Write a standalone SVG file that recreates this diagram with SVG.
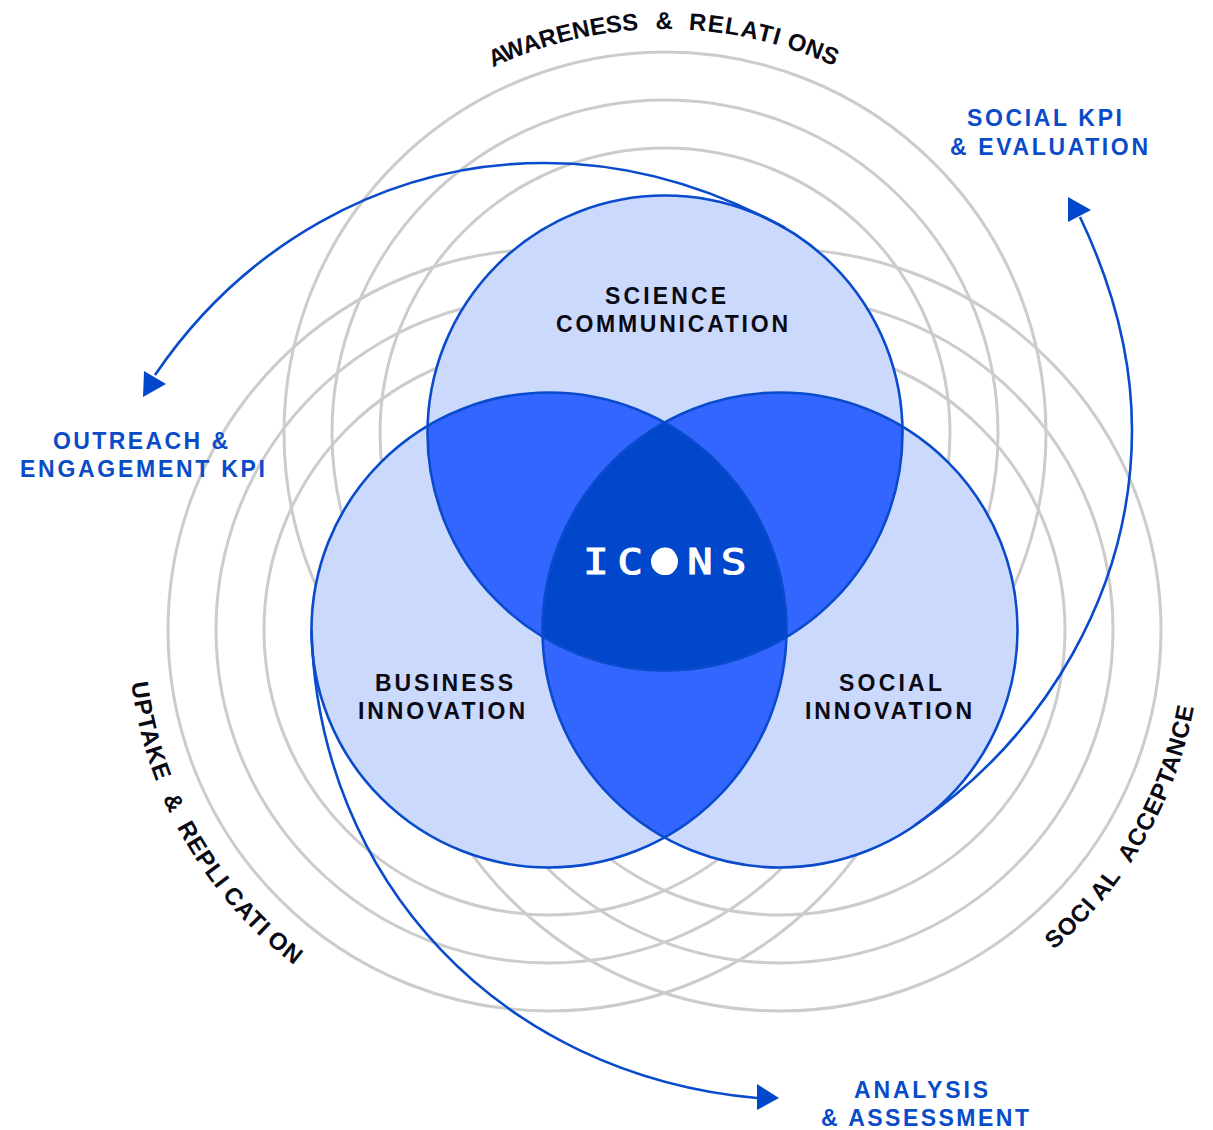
<svg xmlns="http://www.w3.org/2000/svg" width="1213" height="1130" viewBox="0 0 1213 1130">
<style>
.ring{fill:none;stroke:#cccccc;stroke-width:3}
.disc{fill:#cbd9fd}
.edge{fill:none;stroke:#0a4bcc;stroke-width:2.6}
.lens{fill:#3366ff}
.core{fill:#0047cc}
.lab{font-family:"Liberation Sans",Arial,sans-serif;font-weight:700;font-size:23px;fill:#0a0a14}
.blue{fill:#0a4bc8}
.arc{font-family:"Liberation Sans",Arial,sans-serif;font-weight:700;font-size:24px;fill:#0a0a14}
.conn{fill:none;stroke:#0a4bcc;stroke-width:2.6}
.head{fill:#0047cc}
</style>
<defs>
<clipPath id="cT"><circle cx="665" cy="433" r="237.5"/></clipPath>
<clipPath id="cL"><circle cx="549" cy="630" r="237.5"/></clipPath>
<clipPath id="cTL" clip-path="url(#cT)"><circle cx="549" cy="630" r="237.5"/></clipPath>
<path id="pTop" d="M665,29 A404,404 0 0 1 665,837 A404,404 0 0 1 665,29" transform="rotate(-25.2 665 433)"/>
<path id="pLeft" d="M128,630 A421,421 0 0 0 549,1051"/>
<path id="pRight" d="M780,1051 A421,421 0 0 0 1201,630"/>
</defs>
<g id="rings">
<circle class="ring" cx="665" cy="433" r="285"/><circle class="ring" cx="665" cy="433" r="333"/><circle class="ring" cx="665" cy="433" r="381"/>
<circle class="ring" cx="549" cy="630" r="285"/><circle class="ring" cx="549" cy="630" r="333"/><circle class="ring" cx="549" cy="630" r="381"/>
<circle class="ring" cx="780" cy="630" r="285"/><circle class="ring" cx="780" cy="630" r="333"/><circle class="ring" cx="780" cy="630" r="381"/>
</g>
<g id="node-science"><circle class="disc" cx="665" cy="433" r="238.5"/></g>
<g id="node-business"><circle class="disc" cx="549" cy="630" r="238.5"/></g>
<g id="node-social"><circle class="disc" cx="780" cy="630" r="238.5"/></g>
<g id="overlaps">
<circle class="lens" cx="549" cy="630" r="237.5" clip-path="url(#cT)"/>
<circle class="lens" cx="780" cy="630" r="237.5" clip-path="url(#cT)"/>
<circle class="lens" cx="780" cy="630" r="237.5" clip-path="url(#cL)"/>
<circle class="core" cx="780" cy="630" r="237.5" clip-path="url(#cTL)"/>
</g>
<g id="outlines">
<circle class="edge" cx="665" cy="433" r="237.5"/><circle class="edge" cx="549" cy="630" r="237.5"/><circle class="edge" cx="780" cy="630" r="237.5"/>
</g>
<g id="labels">
<text class="lab" x="605" y="303.5" textLength="121">SCIENCE</text>
<text class="lab" x="556" y="332" textLength="232">COMMUNICATION</text>
<text class="lab" x="375" y="691" textLength="138">BUSINESS</text>
<text class="lab" x="358" y="719" textLength="167">INNOVATION</text>
<text class="lab" x="839" y="691" textLength="103">SOCIAL</text>
<text class="lab" x="805" y="719" textLength="167">INNOVATION</text>
<text class="lab blue" x="967" y="125.500" textLength="155">SOCIAL KPI</text>
<text class="lab blue" x="950" y="154.500" textLength="198">&amp; EVALUATION</text>
<text class="lab blue" x="53" y="449" textLength="175">OUTREACH &amp;</text>
<text class="lab blue" x="20" y="477" textLength="245">ENGAGEMENT KPI</text>
<text class="lab blue" x="854" y="1097.500" textLength="134">ANALYSIS</text>
<text class="lab blue" x="821" y="1125.500" textLength="208">&amp; ASSESSMENT</text>
</g>
<g id="arc-labels">
<text class="arc"><textPath href="#pTop"><tspan dx="0 -2">AWARENESS</tspan> <tspan dx="10">&amp;</tspan> <tspan dx="9" letter-spacing="1.200">RELATI</tspan><tspan dx="7">ONS</tspan></textPath></text>
<text class="arc" letter-spacing="1"><textPath href="#pLeft" startOffset="53">UPTAKE <tspan dx="9">&amp;</tspan> <tspan dx="6">REPLI</tspan><tspan dx="6">CATI</tspan><tspan dx="6">ON</tspan></textPath></text>
<text class="arc" letter-spacing="0.600"><textPath href="#pRight" startOffset="298">SOCI<tspan dx="6">AL</tspan> <tspan dx="9">ACCEPTANCE</tspan></textPath></text>
</g>
<g id="logo">
<text transform="scale(1.2 1)" x="486 514.500 543.700 572.800 600.800" y="574" font-family="'DejaVu Sans Mono',monospace" font-size="35" fill="#ffffff" stroke="#ffffff" stroke-width="1.200">ICONS</text>
<circle cx="664.500" cy="561.500" r="13.500" fill="#ffffff"/>
</g>
<g id="connectors">
<path class="conn" d="M785,228 C710,187 630,163 545,163 C380,163 240,250 155,375"/>
<polygon class="head" points="144,371 166,384 143,397"/>
<path class="conn" d="M915,825 C1045,737 1132,590 1132,430 C1132,350 1110,280 1080,217"/>
<polygon class="head" points="1068,197 1091,210 1068,222"/>
<path class="conn" d="M311.500,630 C318,880 500,1075 757,1098"/>
<polygon class="head" points="757,1084 779,1098 757,1110"/>
</g>
</svg>
